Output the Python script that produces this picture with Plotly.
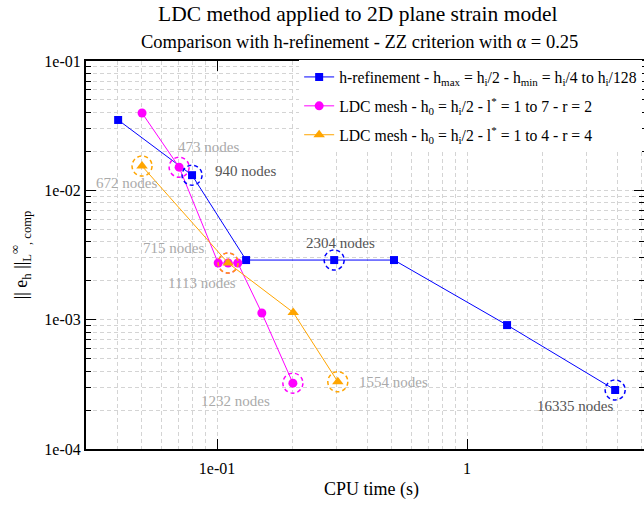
import math
import plotly.graph_objects as go

# ---------------- data ----------------
h_cpu = [0.0402, 0.0794, 0.1306, 0.294, 0.51, 1.445, 3.91]
h_err = [0.035, 0.0131, 0.00289, 0.00289, 0.00289, 0.000908, 0.000286]

r2_cpu = [0.0501, 0.0705, 0.101, 0.1107, 0.121, 0.151, 0.201]
r2_err = [0.0396, 0.0151, 0.00274, 0.00274, 0.00274, 0.001125, 0.000323]

r4_cpu = [0.0501, 0.1107, 0.2016, 0.304]
r4_err = [0.0154, 0.00274, 0.001138, 0.000331]

x_tickvals = [0.1, 1]
x_ticktext = ["1e-01", "1"]
y_tickvals = [1e-1, 1e-2, 1e-3, 1e-4]
y_ticktext = ["1e-01", "1e-02", "1e-03", "1e-04"]

# node labels: (point index, text)
node_labels_h = [(1, "940 nodes"), (3, "2304 nodes"), (6, "16335 nodes")]
node_labels_r2 = [(1, "473 nodes"), (3, "715 nodes"), (6, "1232 nodes")]
node_labels_r4 = [(0, "672 nodes"), (1, "1113 nodes"), (3, "1554 nodes")]

BLUE = "#0000ff"
MAGENTA = "#ff00ff"
ORANGE = "#ffa500"
DARK = "#555555"
LIGHT = "#aaaaaa"
FONT = "Liberation Serif"

X_RANGE = [math.log10(0.0299), math.log10(5.1)]
Y_RANGE = [-4, -1]
W, H = 644, 512
M_L, M_R, M_T, M_B = 86, 0, 61, 63
PW, PH = W - M_L - M_R, H - M_T - M_B

minor_x = [m * 10 ** e for e in (-2, -1, 0) for m in range(2, 10)]
minor_y = [m * 10 ** e for e in (-4, -3, -2) for m in range(2, 10)]

fig = go.Figure()
fig.add_trace(go.Scatter(
    x=h_cpu, y=h_err, mode="lines+markers", legendgroup="a",
    name="h-refinement - h<sub>max</sub> = h<sub>i</sub>/2 - h<sub>min</sub> = h<sub>i</sub>/4 to h<sub>i</sub>/128",
    line=dict(color=BLUE, width=1), marker=dict(symbol="square", size=8, color=BLUE)))
fig.add_trace(go.Scatter(
    x=r2_cpu, y=r2_err, mode="lines+markers", legendgroup="b",
    name="LDC mesh - h<sub>0</sub> = h<sub>i</sub>/2 - l<sup>*</sup> = 1 to 7 - r = 2",
    line=dict(color=MAGENTA, width=1), marker=dict(symbol="circle", size=9, color=MAGENTA)))
fig.add_trace(go.Scatter(
    x=r4_cpu, y=r4_err, mode="lines+markers", legendgroup="c",
    name="LDC mesh - h<sub>0</sub> = h<sub>i</sub>/2 - l<sup>*</sup> = 1 to 4 - r = 4",
    line=dict(color=ORANGE, width=1), marker=dict(symbol="triangle-up", size=10, color=ORANGE)))

# dashed highlight circles (radius ~10 px, converted to decades on each log axis)
RING_PX = 10
rdx = RING_PX * (X_RANGE[1] - X_RANGE[0]) / PW
rdy = RING_PX * (Y_RANGE[1] - Y_RANGE[0]) / PH
shapes = []
def ring(xv, yv, color):
    shapes.append(dict(type="circle", xref="x", yref="y",
                       x0=xv * 10 ** (-rdx), x1=xv * 10 ** rdx,
                       y0=yv * 10 ** (-rdy), y1=yv * 10 ** rdy,
                       line=dict(color=color, width=1.5, dash="4px,3px"), layer="above"))
for i, _ in node_labels_h:
    ring(h_cpu[i], h_err[i], BLUE)
for i, _ in node_labels_r2:
    ring(r2_cpu[i], r2_err[i], MAGENTA)
for i, _ in node_labels_r4:
    ring(r4_cpu[i], r4_err[i], ORANGE)

# label offsets (pixels) and anchors
offs_h = [(21, 4, "left"), (6, 17, "center"), (-40, -16, "center")]
offs_r2 = [(29, 20, "center"), (-55, 15, "center"), (-57, -18, "center")]
offs_r4 = [(-16, -17, "center"), (-26, -20, "center"), (19, 0, "left")]

annotations = []
def lab(xv, yv, text, off, color):
    dx, dy, anc = off
    annotations.append(dict(x=math.log10(xv), y=math.log10(yv), xref="x", yref="y", text=text,
                            showarrow=False, xshift=dx, yshift=dy, xanchor=anc, yanchor="middle",
                            font=dict(family=FONT, size=15, color=color)))
for (i, t), o in zip(node_labels_h, offs_h):
    lab(h_cpu[i], h_err[i], t, o, DARK)
for (i, t), o in zip(node_labels_r2, offs_r2):
    lab(r2_cpu[i], r2_err[i], t, o, LIGHT)
for (i, t), o in zip(node_labels_r4, offs_r4):
    lab(r4_cpu[i], r4_err[i], t, o, LIGHT)

# titles
annotations.append(dict(text="LDC method applied to 2D plane strain model", xref="paper", yref="paper",
                        x=0.487, y=1, yshift=47, xanchor="center", yanchor="middle", showarrow=False,
                        font=dict(family=FONT, size=21.5, color="black")))
annotations.append(dict(text="Comparison with h-refinement - ZZ criterion with α = 0.25", xref="paper", yref="paper",
                        x=0.49, y=1, yshift=19, xanchor="center", yanchor="middle", showarrow=False,
                        font=dict(family=FONT, size=18.5, color="black")))
annotations.append(dict(text="CPU time (s)", xref="paper", yref="paper",
                        x=0.5125, y=0, yshift=-40, xanchor="center", yanchor="middle", showarrow=False,
                        font=dict(family=FONT, size=18, color="black")))

grid = "#d4d4d4"
fig.update_layout(
    width=W, height=H,
    margin=dict(l=M_L, r=M_R, t=M_T, b=M_B, autoexpand=False),
    paper_bgcolor="white", plot_bgcolor="white",
    font=dict(family=FONT, size=16, color="black"),
    showlegend=True,
    legend=dict(x=0.382, y=1.002, xanchor="left", yanchor="top", bgcolor="white",
                font=dict(family=FONT, size=15.7, color="black"), tracegroupgap=5.5),
    shapes=shapes, annotations=annotations,
    xaxis=dict(type="log", range=X_RANGE, automargin=False,
               tickvals=x_tickvals, ticktext=x_ticktext, ticks="inside", ticklen=10,
               tickcolor="black", showline=True, linecolor="black", linewidth=2, mirror="ticks",
               showgrid=True, gridcolor=grid, griddash="4px,3px", gridwidth=1,
               minor=dict(tickvals=minor_x, showgrid=True, gridcolor=grid, griddash="4px,3px", ticks=""),
               tickfont=dict(family=FONT, size=16), ticklabelstandoff=4, zeroline=False),
    yaxis=dict(type="log", range=Y_RANGE, automargin=False,
               tickvals=y_tickvals, ticktext=y_ticktext, ticks="inside", ticklen=10,
               tickcolor="black", showline=True, linecolor="black", linewidth=2, mirror="ticks",
               showgrid=True, gridcolor=grid, griddash="4px,3px", gridwidth=1,
               minor=dict(tickvals=minor_y, showgrid=True, gridcolor=grid, griddash="4px,3px",
                          ticks="inside", ticklen=5, tickcolor="black"),
               title=dict(text="|| e<sub>h</sub> ||<sub>L</sub><sup>∞</sup><sub>, comp</sub>",
                          font=dict(family=FONT, size=18), standoff=12),
               tickfont=dict(family=FONT, size=16), zeroline=False),
)

fig.write_html("out.html", config={"displayModeBar": False},
               post_script="document.body.style.margin='0';document.body.style.overflow='hidden';")
